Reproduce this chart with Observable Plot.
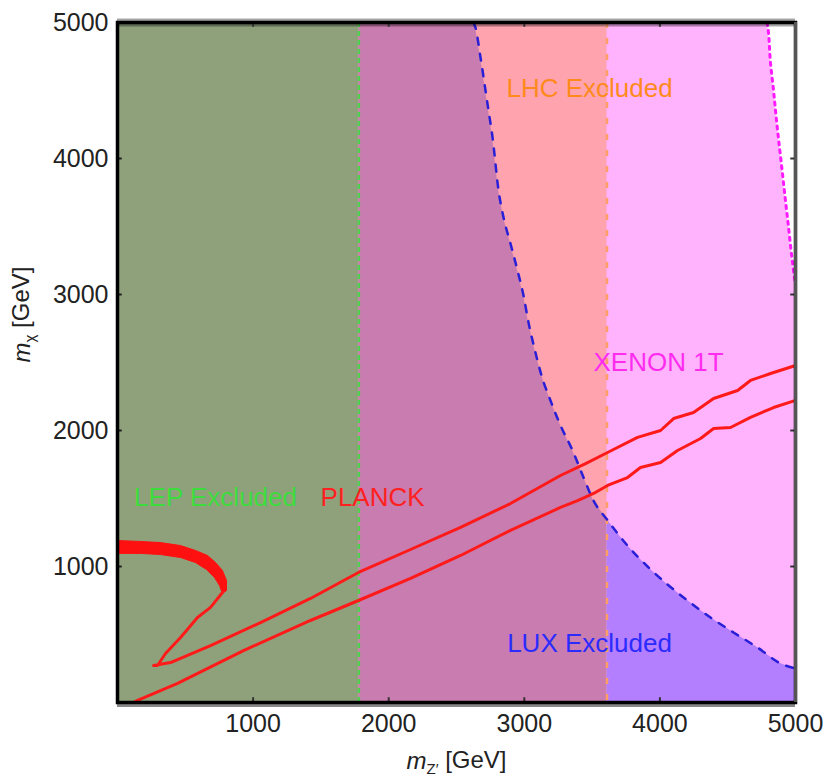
<!DOCTYPE html>
<html>
<head>
<meta charset="utf-8">
<script src="https://cdn.jsdelivr.net/npm/d3@7"></script>
<script src="https://cdn.jsdelivr.net/npm/@observablehq/plot@0.6"></script>
<style>
  body { margin: 0; background: white; }
  #chart svg { display: block; }
</style>
</head>
<body>
<div id="chart"></div>
<script>
// ---- data (GeV) ----
const xTicks = [1000, 2000, 3000, 4000, 5000];
const yTicks = [1000, 2000, 3000, 4000, 5000];
const lepLimit = 1780;      // LEP excluded mZ' below this
const lhcLimit = 3610;      // LHC excluded mZ' below this

// LUX exclusion boundary (blue dashed)
const luxX = [2625, 2640, 2677, 2736, 2766, 2810, 2847, 2898, 2950, 2994, 3031, 3075, 3127, 3193, 3267, 3356, 3437, 3510, 3610, 3761, 3909, 4056, 4204, 4373, 4543, 4720, 4890, 5000];
const luxY = [5000, 4963, 4743, 4353, 4154, 3765, 3566, 3375, 3176, 2993, 2794, 2603, 2404, 2221, 2037, 1853, 1654, 1485, 1345, 1154, 1000, 868, 750, 625, 515, 404, 287, 250];

// XENON 1T projected boundary (magenta dotted)
const xenonX = [4790, 4794, 4816, 4838, 4860, 4882, 4904, 4926, 4948, 4970, 5000];
const xenonY = [5000, 4978, 4699, 4500, 4279, 4081, 3890, 3691, 3500, 3301, 3066];

// PLANCK relic-density contours (red)
const bandX = [0, 170, 317, 465, 575, 664, 723, 774, 804, 804, 774, 752, 715, 656, 575, 465, 317, 170, 0];
const bandY = [1191, 1184, 1176, 1154, 1118, 1081, 1029, 971, 897, 824, 801, 860, 919, 978, 1029, 1066, 1088, 1096, 1096];

const upperX = [774, 686, 590, 465, 354, 295, 266, 391, 686, 1055, 1423, 1777, 2161, 2530, 2898, 3267, 3452, 3614, 3835, 4005, 4101, 4248, 4396, 4573, 4668, 4816, 5000];
const upperY = [809, 699, 625, 478, 360, 272, 272, 294, 419, 588, 765, 956, 1125, 1287, 1463, 1669, 1757, 1838, 1949, 2000, 2088, 2132, 2235, 2294, 2368, 2419, 2478];

const lowerX = [118, 148, 443, 929, 1423, 1777, 2161, 2530, 2898, 3267, 3393, 3511, 3614, 3761, 3857, 4005, 4130, 4300, 4396, 4521, 4668, 4838, 5000];
const lowerY = [0, 15, 140, 382, 603, 750, 912, 1081, 1265, 1434, 1485, 1537, 1596, 1654, 1728, 1765, 1853, 1941, 2015, 2022, 2096, 2169, 2221];

// region labels
const labelText = ["LEP Excluded", "PLANCK", "LHC Excluded", "XENON 1T", "LUX Excluded"];
const labelX = [723, 1881, 3481, 3990, 3481];
const labelY = [1507, 1507, 4515, 2500, 434];
const labelColor = ["#3ddc3d", "#ff2020", "#ff8a1c", "#ff2cf0", "#2b2bff"];

// ---- build tables ----
const zip = (xs, ys) => xs.map((x, i) => ({x, y: ys[i]}));
const lux = zip(luxX, luxY);
const xenon = zip(xenonX, xenonY);
const band = zip(bandX, bandY);
const upper = zip(upperX, upperY);
const lower = zip(lowerX, lowerY);
const labels = labelText.map((t, i) => ({t, x: labelX[i], y: labelY[i], c: labelColor[i]}));

const mauveArea = [{x: lepLimit, y: 5000}, ...lux.filter(d => d.x <= lhcLimit)];
const purpleArea = lux.filter(d => d.x >= lhcLimit);

const C = {
  pink: "#ffb3fd", salmon: "#ffa3ae", mauve: "#c97caf", purple: "#b37fff", green: "#8fa17b"
};
const fmt = d3.format("d");

const chart = Plot.plot({
  width: 827,
  height: 783,
  marginLeft: 117,
  marginRight: 32,
  marginTop: 22,
  marginBottom: 81,
  x: {domain: [0, 5000]},
  y: {domain: [0, 5000]},
  style: {fontFamily: "'Liberation Sans', Arial, sans-serif", background: "white", color: "#222"},
  marks: [
    Plot.rect([0], {x1: 0, x2: 5000, y1: 0, y2: 5000, fill: C.pink}),
    Plot.areaX(xenon, {y: "y", x1: "x", x2: 5000, fill: "white", curve: "monotone-y"}),
    Plot.rect([0], {x1: lepLimit, x2: lhcLimit, y1: 0, y2: 5000, fill: C.salmon}),
    Plot.areaY(mauveArea, {x: "x", y1: 0, y2: "y", fill: C.mauve}),
    Plot.areaY(purpleArea, {x: "x", y1: 0, y2: "y", fill: C.purple, curve: "monotone-x"}),
    Plot.rect([0], {x1: 0, x2: lepLimit, y1: 0, y2: 5000, fill: C.green}),
    // boundaries
    Plot.ruleX([lepLimit], {stroke: "#4fd04f", strokeWidth: 2.5, strokeDasharray: "5,4"}),
    Plot.ruleX([lhcLimit], {stroke: "#ff9f66", strokeWidth: 2.5, strokeDasharray: "6,10"}),
    Plot.line(lux, {x: "x", y: "y", stroke: "#2a1fd8", strokeWidth: 2.5, strokeDasharray: "7,9", curve: "monotone-x"}),
    Plot.line(xenon, {x: "x", y: "y", stroke: "#ff1aff", strokeWidth: 3, strokeDasharray: "3,5", curve: "monotone-y"}),
    // PLANCK
    Plot.line(band, {x: "x", y: "y", fill: "#ff1010", stroke: "#ff1010", strokeWidth: 1}),
    Plot.line(upper, {x: "x", y: "y", stroke: "#ff1a1a", strokeWidth: 3}),
    Plot.line(lower, {x: "x", y: "y", stroke: "#ff1a1a", strokeWidth: 3}),
    // labels
    Plot.text(labels, {x: "x", y: "y", text: "t", fill: "c", fontSize: 26}),
    // inner shading strip along top
    Plot.ruleY([5000], {stroke: "#000", strokeOpacity: 0.35, strokeWidth: 8}),
    // inward ticks
    Plot.ruleX(xTicks.slice(0, 4), {y1: 0, y2: 35, stroke: "#333", strokeWidth: 2}),
    Plot.ruleX(xTicks.slice(0, 4), {y1: 4965, y2: 5000, stroke: "#333", strokeWidth: 2}),
    Plot.ruleY(yTicks.slice(0, 4), {x1: 0, x2: 35, stroke: "#222", strokeWidth: 2}),
    Plot.ruleY(yTicks.slice(0, 4), {x1: 4965, x2: 5000, stroke: "#333", strokeWidth: 2}),
    // frame + shadow
    Plot.ruleY([0], {stroke: "#888", strokeWidth: 3, dy: 3}),
    Plot.frame({stroke: "#000", strokeWidth: 3.5}),
    Plot.ruleX([5000], {stroke: "#555", strokeWidth: 3}),
    // axes
    Plot.axisX(xTicks, {tickSize: 0, tickPadding: 12, fontSize: 25, label: null, tickFormat: fmt}),
    Plot.axisY(yTicks, {tickSize: 0, tickPadding: 9, fontSize: 25, label: null, tickFormat: fmt}),
    Plot.text(["XLABEL"], {frameAnchor: "bottom", dy: 66, fontSize: 24, fill: "#222"}),
    Plot.text(["YLABEL"], {frameAnchor: "left", dx: -95, rotate: -90, fontSize: 24, fill: "#222"})
  ]
});

document.getElementById("chart").appendChild(chart);

// rich axis labels (italic m with subscript)
function richLabel(sel, sub) {
  const t = d3.select(sel);
  t.text(null);
  t.append("tspan").attr("font-style", "italic").text("m");
  t.append("tspan").attr("font-size", 15).attr("dy", "0.35em").text(sub);
  t.append("tspan").attr("dy", "-0.25em").text(" [GeV]");
}
d3.select(chart).selectAll("text").each(function() {
  const s = this.textContent;
  if (s === "XLABEL") richLabel(this, "Z\u2032");
  if (s === "YLABEL") richLabel(this, "\u03c7");
});
</script>
</body>
</html>
